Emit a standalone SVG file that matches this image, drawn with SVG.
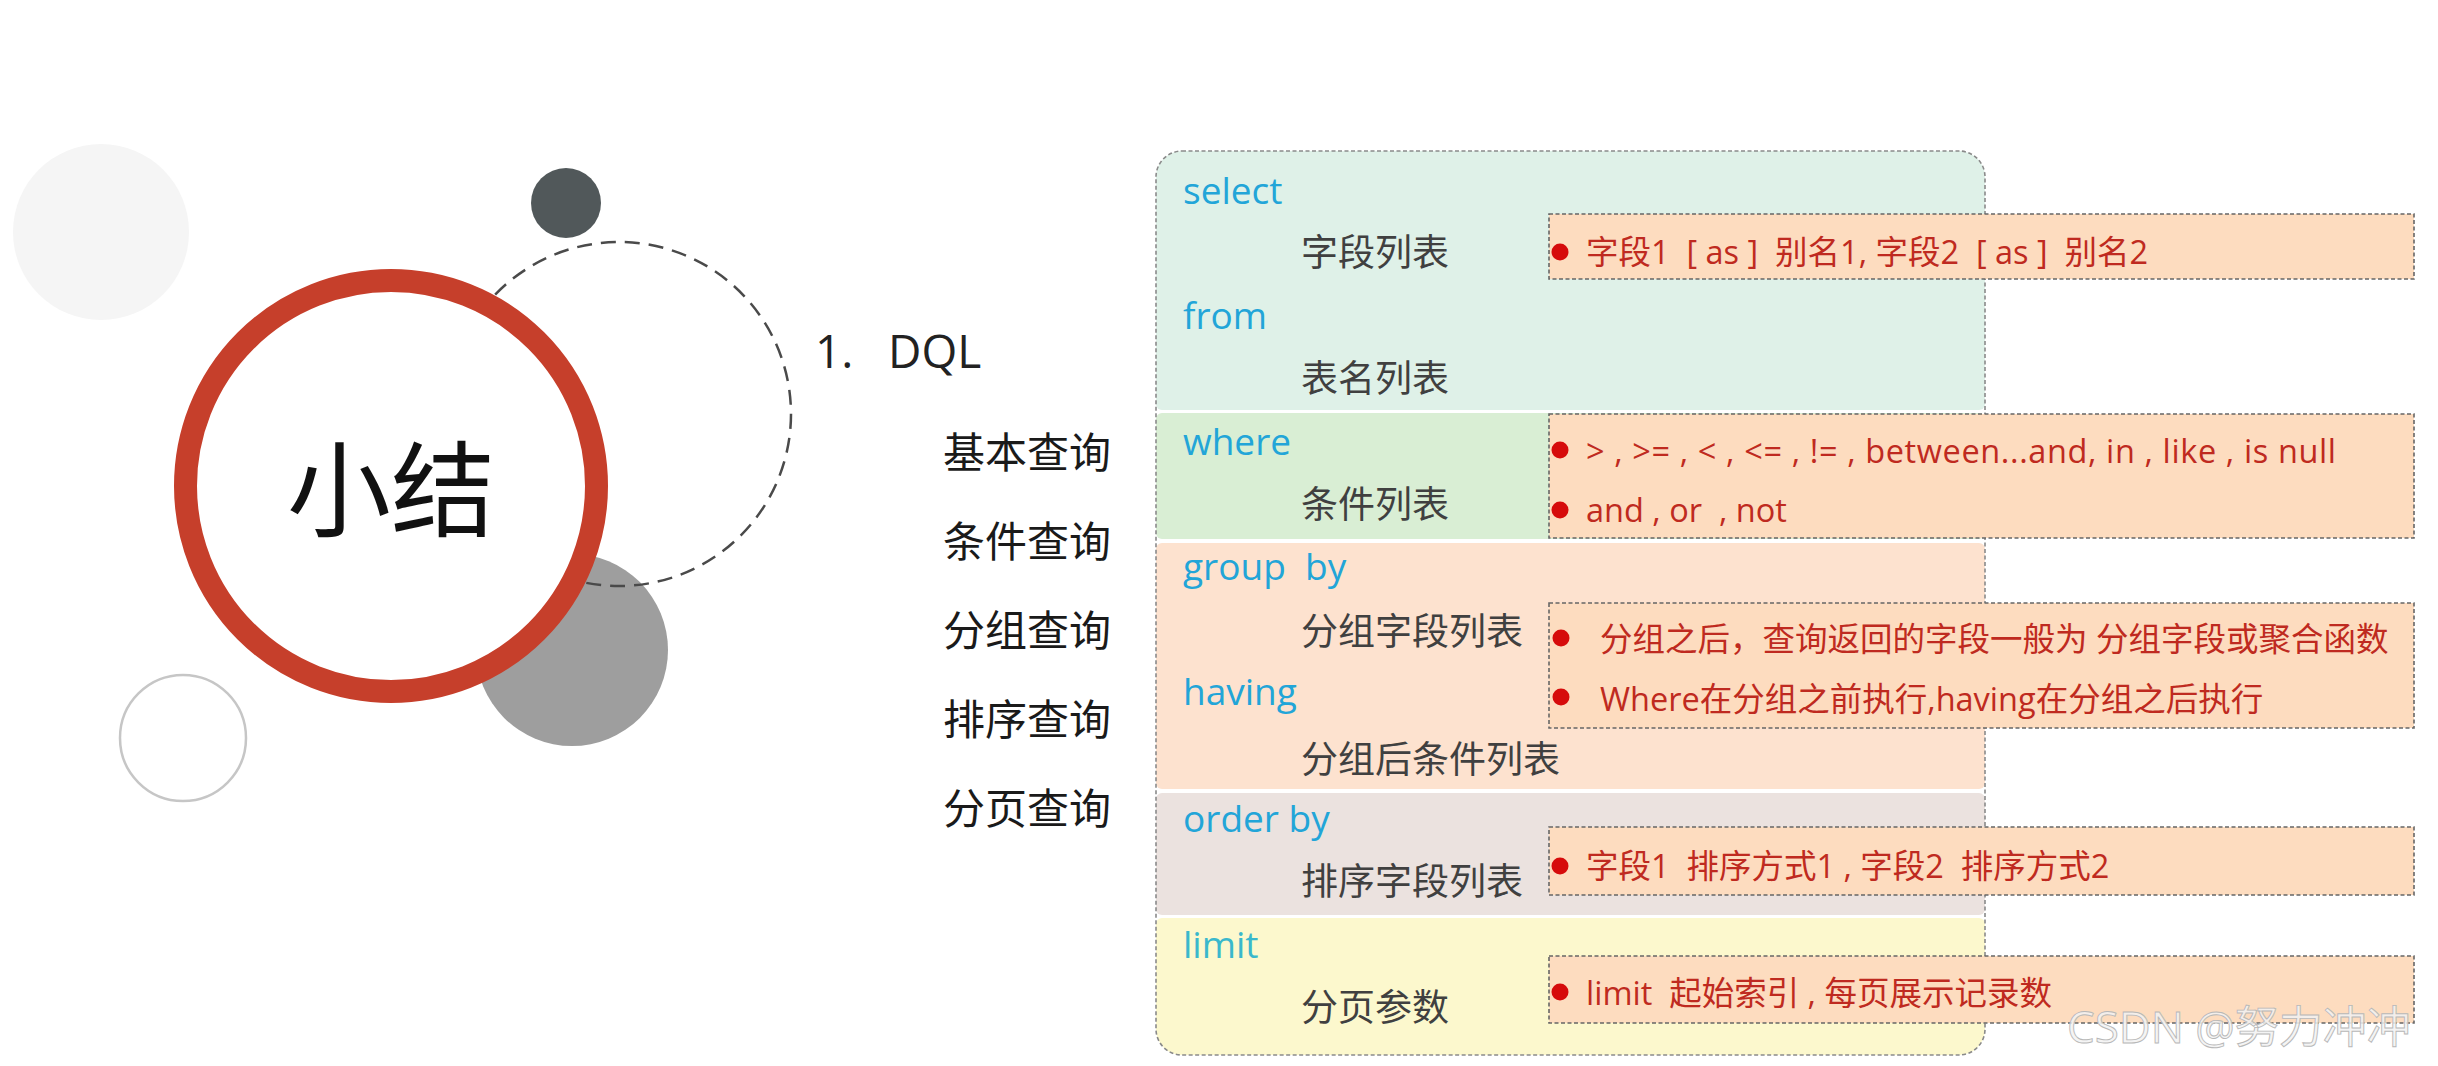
<svg xmlns="http://www.w3.org/2000/svg" width="2438" height="1066" viewBox="0 0 2438 1066">
<style>
  text { white-space: pre; }
  .cjk { font-family: 'Noto Sans CJK SC', sans-serif; }
  .mix { font-family: 'Open Sans', 'Noto Sans CJK SC', sans-serif; }
  .kw { font-family: 'Open Sans', 'Noto Sans CJK SC', sans-serif; font-size: 37px; fill: #22a5d8; }
  .lbl { font-family: 'Noto Sans CJK SC', sans-serif; font-size: 37px; fill: #404040; }
  .nav { font-family: 'Noto Sans CJK SC', sans-serif; font-size: 42px; fill: #1a1a1a; }
  .box { fill: #fddcbf; stroke: #666; stroke-width: 1.6; stroke-dasharray: 4 2.5; }
  .bt { font-family: 'Open Sans', 'Noto Sans CJK SC', sans-serif; font-size: 32.5px; fill: #bf2a20; }
  .dot { fill: #d60b0b; }
</style>
<defs>
  <clipPath id="panelClip">
    <rect x="1156" y="151" width="829" height="904" rx="26" ry="26"/>
  </clipPath>
</defs>
<rect width="2438" height="1066" fill="#ffffff"/>

<g id="decor">
  <circle cx="101" cy="232" r="88" fill="#f5f5f5"/>
  <circle cx="183" cy="738" r="63" fill="none" stroke="#c6c6c6" stroke-width="2.5"/>
  <circle cx="572" cy="650" r="96" fill="#9e9e9e"/>
  <circle cx="619" cy="414" r="172" fill="none" stroke="#4a4a4a" stroke-width="2.5" stroke-dasharray="15 9"/>
  <circle cx="566" cy="203" r="35" fill="#51585a"/>
</g>

<g id="title-node">
  <circle cx="391" cy="486" r="205.5" fill="#ffffff" stroke="#c63f2b" stroke-width="23"/>
  <text x="391" y="529" class="cjk" font-size="104" fill="#111" text-anchor="middle">小结</text>
</g>

<g id="heading">
  <text x="815" y="368" class="mix" font-size="46" fill="#222">1.</text>
  <text x="888" y="368" class="mix" font-size="46" fill="#222">DQL</text>
</g>

<g id="nav">
  <text x="943" y="468" class="nav">基本查询</text>
  <text x="943" y="557" class="nav">条件查询</text>
  <text x="943" y="646" class="nav">分组查询</text>
  <text x="943" y="735" class="nav">排序查询</text>
  <text x="943" y="824" class="nav">分页查询</text>
</g>

<g id="panel">
  <g clip-path="url(#panelClip)">
    <rect x="1156" y="151" width="829" height="259" rx="6" fill="#dff1e8"/>
    <rect x="1156" y="413" width="829" height="126" rx="6" fill="#d9eed4"/>
    <rect x="1156" y="543" width="829" height="246" rx="6" fill="#fde2cf"/>
    <rect x="1156" y="793" width="829" height="122" rx="6" fill="#ebe2df"/>
    <rect x="1156" y="918" width="829" height="137" rx="6" fill="#fcf8cd"/>
  </g>
  <rect x="1156" y="151" width="829" height="904" rx="26" ry="26" fill="none" stroke="#8a8a8a" stroke-width="1.6" stroke-dasharray="4 2.5"/>
</g>

<g id="sec-select">
  <text x="1183" y="204" class="kw">select</text>
  <text x="1301" y="266" class="lbl">字段列表</text>
  <text x="1183" y="329" class="kw">from</text>
  <text x="1301" y="392" class="lbl">表名列表</text>
</g>
<g id="sec-where">
  <text x="1183" y="455" class="kw">where</text>
  <text x="1301" y="518" class="lbl">条件列表</text>
</g>
<g id="sec-group">
  <text x="1183" y="580" class="kw">group  by</text>
  <text x="1301" y="645" class="lbl">分组字段列表</text>
  <text x="1183" y="705" class="kw">having</text>
  <text x="1301" y="773" class="lbl">分组后条件列表</text>
</g>
<g id="sec-order">
  <text x="1183" y="832" class="kw">order by</text>
  <text x="1301" y="895" class="lbl">排序字段列表</text>
</g>
<g id="sec-limit">
  <text x="1183" y="958" class="kw" style="fill:#3ab8cc">limit</text>
  <text x="1301" y="1021" class="lbl">分页参数</text>
</g>

<g id="note-select">
  <rect x="1549" y="214" width="865" height="65" class="box"/>
  <circle cx="1560" cy="252" r="8.5" class="dot"/>
  <text x="1586" y="264" class="bt">字段1  [ as ]  别名1, 字段2  [ as ]  别名2</text>
</g>
<g id="note-where">
  <rect x="1549" y="414" width="865" height="124" class="box"/>
  <circle cx="1560" cy="450" r="8.5" class="dot"/>
  <text x="1586" y="463" class="bt" textLength="750" lengthAdjust="spacing">&gt; , &gt;= , &lt; , &lt;= , != , between...and, in , like , is null</text>
  <circle cx="1560" cy="510" r="8.5" class="dot"/>
  <text x="1586" y="522" class="bt">and , or  , not</text>
</g>
<g id="note-group">
  <rect x="1549" y="603" width="865" height="125" class="box"/>
  <circle cx="1561" cy="638" r="8.5" class="dot"/>
  <text x="1600" y="651" class="bt">分组之后，查询返回的字段一般为 分组字段或聚合函数</text>
  <circle cx="1561" cy="697" r="8.5" class="dot"/>
  <text x="1600" y="711" class="bt">Where在分组之前执行,having在分组之后执行</text>
</g>
<g id="note-order">
  <rect x="1549" y="827" width="865" height="68" class="box"/>
  <circle cx="1560" cy="866" r="8.5" class="dot"/>
  <text x="1586" y="878" class="bt">字段1  排序方式1 , 字段2  排序方式2</text>
</g>
<g id="note-limit">
  <rect x="1549" y="956" width="865" height="67" class="box"/>
  <circle cx="1560" cy="992" r="8.5" class="dot"/>
  <text x="1586" y="1005" class="bt">limit  起始索引 , 每页展示记录数</text>
</g>

<g id="watermark">
  <text x="2067" y="1043" class="mix" font-size="44" fill="#f2f2f2" fill-opacity="0.85" stroke="#b8b8b8" stroke-width="0.9">CSDN @努力冲冲</text>
</g>
</svg>
